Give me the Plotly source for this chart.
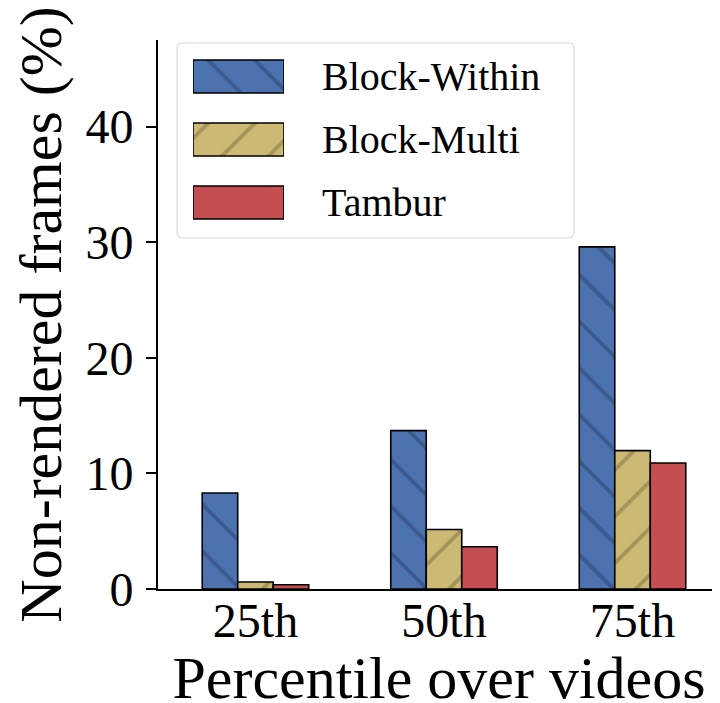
import plotly.graph_objects as go

categories = ["25th", "50th", "75th"]
series_names = ["Block-Within", "Block-Multi", "Tambur"]
block_within = [8.3, 13.7, 29.6]
block_multi = [0.6, 5.15, 11.97]
tambur = [0.37, 3.66, 10.9]

colors = ["#4C72B0", "#CCB974", "#C44E52"]
hatch_fg = ["rgba(35,55,95,0.85)", "rgba(110,95,50,0.85)", "rgba(0,0,0,0)"]
hatches = ["\\", "/", ""]
values = [block_within, block_multi, tambur]

FONT = "Liberation Serif"
OFF = 8  # browser default body margin shifts the figure by this many px
W, H = 720, 703
# target plot area on screen: x 158..720, y 40..589
L, T = 158 - OFF, 40 - OFF
R = OFF
B = (H + OFF) - 589
PW, PH = W - L - R, H - T - B

def px_x(x):  # screen px -> paper
    return (x - OFF - L) / PW

def px_y(y):
    return (H - B - (y - OFF)) / PH

fig = go.Figure()
xs = list(range(len(categories)))
for name, vals, c, hs, fg in zip(series_names, values, colors, hatches, hatch_fg):
    fig.add_trace(go.Bar(
        x=xs, y=vals, name=name, showlegend=False,
        marker=dict(color=c, line=dict(color="black", width=1.6),
                    pattern=dict(shape=hs, fgcolor=fg, size=33, solidity=0.12)),
    ))

# legend swatches drawn as bars on a small overlay axis
for i, (c, hs, fg) in enumerate(zip(colors, hatches, hatch_fg)):
    fig.add_trace(go.Bar(
        x=[1], y=[2 - i], orientation="h", base=0, width=0.524, offset=-0.262,
        xaxis="x2", yaxis="y2", showlegend=False, hoverinfo="skip",
        marker=dict(color=c, line=dict(color="black", width=1.6),
                    pattern=dict(shape=hs, fgcolor=fg, size=33, solidity=0.12)),
    ))

# legend box
x0, x1 = px_x(177), px_x(574)
y0, y1 = px_y(238), px_y(43)
rx, ry = 6 / PW, 6 / PH
path = (f"M {x0+rx},{y0} L {x1-rx},{y0} Q {x1},{y0} {x1},{y0+ry} "
        f"L {x1},{y1-ry} Q {x1},{y1} {x1-rx},{y1} L {x0+rx},{y1} "
        f"Q {x0},{y1} {x0},{y1-ry} L {x0},{y0+ry} Q {x0},{y0} {x0+rx},{y0} Z")
fig.add_shape(type="path", path=path, xref="paper", yref="paper",
              line=dict(color="#d9d9d9", width=1.2), fillcolor="rgba(255,255,255,0.85)",
              layer="below")

for i, name in enumerate(series_names):
    fig.add_annotation(text=name, x=px_x(320), y=px_y(76.5 + 63 * i), xref="paper", yref="paper",
                       xanchor="left", yanchor="middle", showarrow=False,
                       font=dict(family=FONT, size=40, color="black"))

fig.update_layout(
    width=W, height=H, margin=dict(l=L, r=R, t=T, b=B, autoexpand=False),
    paper_bgcolor="white", plot_bgcolor="rgba(0,0,0,0)",
    barmode="group", bargap=0.435, bargroupgap=0,
    font=dict(family=FONT, color="black"),
    xaxis=dict(range=[-0.517, 2.464], tickvals=xs, ticktext=categories,
               showline=True, linecolor="black", linewidth=1.6, ticks="",
               showgrid=False, zeroline=False, automargin=False,
               tickfont=dict(family=FONT, size=48), ticklabelstandoff=-11,
               title=dict(text="Percentile over videos", font=dict(family=FONT, size=60), standoff=15)),
    yaxis=dict(range=[0, 47.5], tickvals=[0, 10, 20, 30, 40],
               showline=True, linecolor="black", linewidth=1.6, ticks="outside",
               ticklen=10, tickwidth=1.6, tickcolor="black",
               showgrid=False, zeroline=False, automargin=False,
               tickfont=dict(family=FONT, size=48), ticklabelstandoff=3,
               title=dict(text="Non-rendered frames (%)", font=dict(family=FONT, size=60), standoff=14)),
    xaxis2=dict(domain=[px_x(193), px_x(284)], range=[0, 1], visible=False, anchor="y2",
                fixedrange=True),
    yaxis2=dict(domain=[px_y(234), px_y(45)], range=[-0.5, 2.5], visible=False, anchor="x2",
                fixedrange=True),
)

fig.write_html("out.html")
